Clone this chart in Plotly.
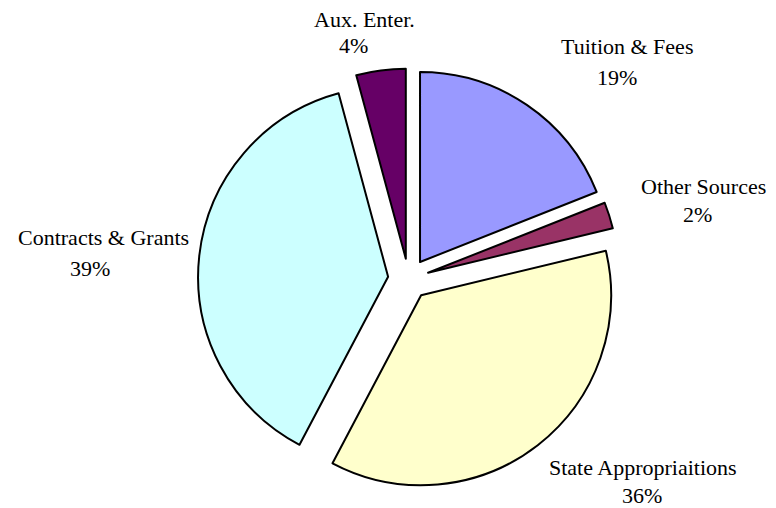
import plotly.graph_objects as go

labels = ["Tuition & Fees", "Other Sources", "State Appropriaitions", "Contracts & Grants", "Aux. Enter."]
values = [19.0, 2.25, 36.5, 38.1, 4.2]
# percentage labels as printed on the chart
pct_labels = ["19%", "2%", "36%", "39%", "4%"]
colors = ["#9999FF", "#993366", "#FFFFCC", "#CCFFFF", "#660066"]

# label anchor positions in screen pixels: (name x, name y, percent x, percent y)
label_pos = [(627, 47, 617, 77), (703, 186, 697, 215), (643, 467, 642, 495),
             (103, 238, 90, 268), (364, 19, 353, 46)]

OFF = 8  # page body margin
W, H = 768, 500
cx, cy, r, pull = 408.5 - OFF, 279 - OFF, 190, 0.108
ext = r * (1 + pull)

fig = go.Figure(go.Pie(
    labels=labels, values=values, sort=False, direction="clockwise", rotation=0,
    marker=dict(colors=colors, line=dict(color="black", width=2)),
    pull=[pull] * len(values), textinfo="none", hoverinfo="label",
    domain=dict(x=[(cx - ext) / W, (cx + ext) / W], y=[1 - (cy + ext) / H, 1 - (cy - ext) / H]),
    showlegend=False,
))

annotations = []
for lab, pct, (x1, y1, x2, y2) in zip(labels, pct_labels, label_pos):
    for txt, x, y in ((lab, x1, y1), (pct, x2, y2)):
        annotations.append(dict(text=txt, x=(x - OFF) / W, y=1 - (y - OFF) / H, xref="paper", yref="paper",
                                showarrow=False, xanchor="center", yanchor="middle",
                                font=dict(family="Liberation Serif", size=22, color="black")))

fig.update_layout(width=W, height=H, margin=dict(l=0, r=0, t=0, b=0),
                  paper_bgcolor="white", plot_bgcolor="white", annotations=annotations)
fig.write_html("out.html")
